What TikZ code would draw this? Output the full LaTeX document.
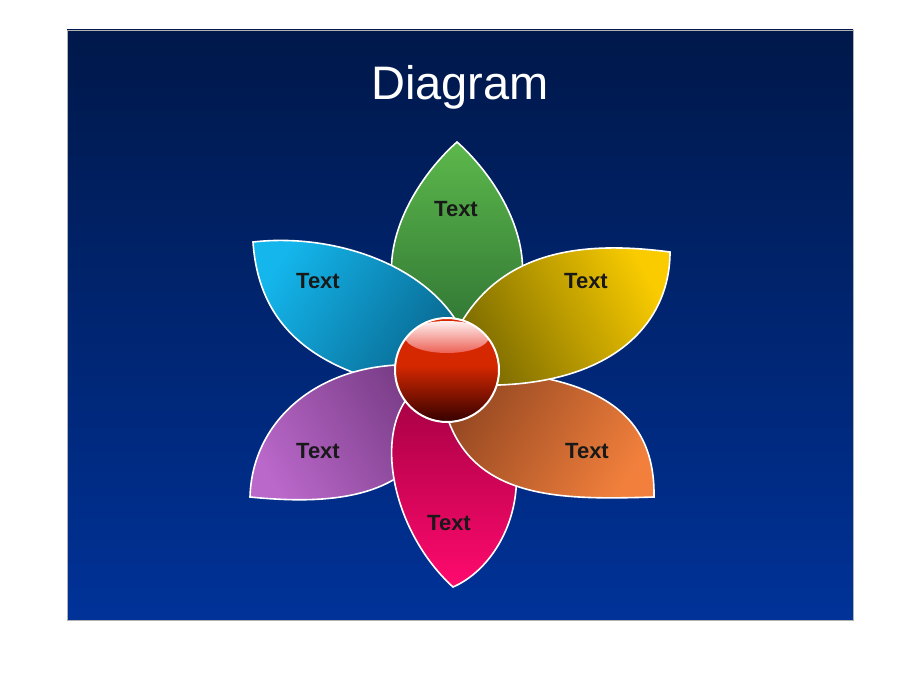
\documentclass[tikz,border=0pt]{standalone}
\usepackage{fontspec}
\setmainfont{Liberation Sans}

\definecolor{slidetop}{RGB}{0,24,74}
\definecolor{slidebot}{RGB}{0,50,152}
\definecolor{greenlt}{RGB}{92,184,75}
\definecolor{greendk}{RGB}{40,105,48}
\definecolor{bluelt}{RGB}{20,182,236}
\definecolor{bluedk}{RGB}{8,100,140}
\definecolor{yellowlt}{RGB}{250,204,0}
\definecolor{yellowdk}{RGB}{120,104,0}
\definecolor{orangelt}{RGB}{242,128,60}
\definecolor{orangedk}{RGB}{150,72,34}
\definecolor{pinklt}{RGB}{255,10,110}
\definecolor{pinkdk}{RGB}{160,0,64}
\definecolor{purplelt}{RGB}{186,104,202}
\definecolor{purpledk}{RGB}{120,60,134}
\definecolor{ballred}{RGB}{214,40,0}
\definecolor{ballbot}{RGB}{50,0,0}
\definecolor{glosstop}{RGB}{255,240,240}
\definecolor{glossbot}{RGB}{236,96,84}

\tikzset{
  petal/.style={draw=white, line width=1.6pt},
  petaltext/.style={font=\bfseries\fontsize{22}{26}\selectfont, text=black!90},
}

\begin{document}
\begin{tikzpicture}[x=1pt, y=-1pt]
\useasboundingbox (0,0) rectangle (920,690);
\fill[white] (0,0) rectangle (920,690);
\shade[top color=slidetop, bottom color=slidebot] (67,30) rectangle (853,620);
\draw[gray!60, line width=0.6pt] (67,30) rectangle (853,620);

\node[text=white, font=\fontsize{47}{52}\selectfont] (title) at (460,87) {Diagram};

% petals, back to front
\shade[petal, top color=greenlt, bottom color=greendk]
  (457,142) .. controls (405,188) and (340,300) .. (457,370)
  .. controls (574,300) and (509,188) .. cycle;
\shade[petal, top color=bluelt, bottom color=bluedk, shading angle=57]
  (253,242) .. controls (340,232) and (445,270) .. (470,350) -- (420,390)
  .. controls (300,370) and (258,315) .. cycle;
\shade[petal, top color=purplelt, bottom color=purpledk, shading angle=122]
  (250,497) .. controls (252,420) and (320,360) .. (420,365) -- (430,440)
  .. controls (400,505) and (310,503) .. cycle;
\shade[petal, top color=pinklt, bottom color=pinkdk, shading angle=180]
  (453,587) .. controls (385,525) and (368,408) .. (430,380)
  -- (470,380) .. controls (550,450) and (515,560) .. cycle;
\shade[petal, top color=orangelt, bottom color=orangedk, shading angle=-122]
  (654,497) .. controls (655,425) and (615,375) .. (470,370) -- (445,410)
  .. controls (470,500) and (560,500) .. cycle;
\shade[petal, top color=yellowlt, bottom color=yellowdk, shading angle=-61]
  (670,252) .. controls (580,240) and (490,250) .. (450,345) -- (470,385)
  .. controls (610,390) and (670,325) .. cycle;

% centre ball
\fill[ballred] (447,370) circle (52);
\begin{scope}
\clip (447,370) circle (52);
\shade[top color=ballred, bottom color=ballbot] (390,365) rectangle (504,423);
\shade[top color=glosstop, bottom color=glossbot] (447,337) ellipse (42 and 16);
\end{scope}
\draw[white, line width=2pt] (447,370) circle (52);

\node[petaltext] (tgreen) at (456,209) {Text};
\node[petaltext] (tblue) at (318,281) {Text};
\node[petaltext] (tyellow) at (586,281) {Text};
\node[petaltext] (tpurple) at (318,451) {Text};
\node[petaltext] (torange) at (587,451) {Text};
\node[petaltext] (tpink) at (449,523) {Text};
\end{tikzpicture}
\end{document}
